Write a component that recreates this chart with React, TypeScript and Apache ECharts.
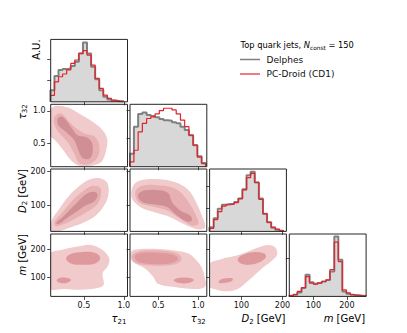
import React, { useEffect, useRef } from 'react';
import * as echarts from 'echarts';

// ---------- axis ranges & ticks (variables: tau21, tau32, D2, m) ----------
const xRanges = [[0.084, 1.046], [0.146, 1.108], [22.7, 209.5], [28, 257.5]];
const yRanges = [[0, 0], [0.144, 1.1], [24.4, 206], [30.7, 254.6]];
const tickValues = [[0.5, 1.0], [0.5, 1.0], [100, 200], [100, 200]];
const histMax = [2.94, 2.2, 2.74, 1.635];
const histTicks = [[1, 2], [1, 2], [1, 2], [1]];

// ---------- histograms ----------
const tau21Edges = [0.080, 0.131, 0.182, 0.233, 0.284, 0.335, 0.386, 0.437, 0.488, 0.539, 0.590, 0.641, 0.692, 0.743, 0.794, 0.845, 0.896, 0.947, 0.998];
const tau21Delphes = [0.55, 1.21, 1.50, 1.54, 1.57, 1.69, 1.89, 2.28, 2.79, 2.28, 1.65, 1.06, 0.55, 0.24, 0.11, 0.05, 0.03, 0.02];
const tau21PCDroid = [0.30, 0.94, 1.18, 1.31, 1.50, 1.81, 1.97, 2.28, 2.41, 2.20, 1.73, 1.10, 0.63, 0.31, 0.16, 0.08, 0.05, 0.03];

const tau32Edges = [0.142, 0.195, 0.248, 0.301, 0.354, 0.407, 0.460, 0.513, 0.566, 0.619, 0.672, 0.725, 0.778, 0.831, 0.884, 0.937, 0.990, 1.043, 1.096];
const tau32Delphes = [0.46, 1.41, 1.86, 1.91, 1.82, 1.79, 1.74, 1.68, 1.64, 1.62, 1.57, 1.53, 1.41, 1.29, 1.11, 0.76, 0.37, 0.13];
const tau32PCDroid = [0.17, 0.58, 1.23, 1.53, 1.70, 1.76, 1.86, 1.98, 2.06, 2.06, 2.00, 1.86, 1.64, 1.41, 1.11, 0.76, 0.34, 0.11];

const d2Edges = [22.5, 32.5, 42.5, 52.5, 62.5, 72.5, 82.5, 92.5, 102.5, 112.5, 122.5, 132.5, 142.5, 152.5, 162.5, 172.5, 182.5, 192.5, 202.5];
const d2Delphes = [0.18, 0.58, 0.99, 1.17, 1.20, 1.21, 1.29, 1.44, 1.85, 2.47, 2.62, 2.15, 1.44, 0.77, 0.40, 0.16, 0.07, 0.03];
const d2PCDroid = [0.13, 0.52, 0.87, 1.11, 1.17, 1.20, 1.26, 1.44, 1.82, 2.36, 2.55, 2.15, 1.41, 0.77, 0.40, 0.19, 0.10, 0.04];

const mEdges = [28, 40, 52, 64.5, 76.5, 88.5, 100.5, 112.5, 125, 137.5, 149.5, 162.5, 174.5, 186.5, 198.5, 210.5, 222.5, 234.5, 246.5, 258];
const mDelphes = [0.02, 0.04, 0.10, 0.22, 0.57, 0.37, 0.33, 0.35, 0.39, 0.43, 0.65, 1.57, 0.96, 0.13, 0.07, 0.04, 0.03, 0.02, 0.01];
const mPCDroid = [0.02, 0.05, 0.13, 0.23, 0.52, 0.35, 0.32, 0.35, 0.39, 0.43, 0.70, 1.42, 0.91, 0.17, 0.09, 0.05, 0.03, 0.02, 0.01];

// ---------- 2D density contours (level: 0 outer, 1 mid, 2 inner, 3 blob) ----------
const tau21Tau32Outer = [[0.07, 1.0], [0.15, 1.075], [0.30, 1.05], [0.45, 0.95], [0.60, 0.84], [0.72, 0.72], [0.79, 0.58], [0.78, 0.40], [0.72, 0.22], [0.60, 0.16], [0.45, 0.155], [0.34, 0.24], [0.24, 0.40], [0.13, 0.56], [0.07, 0.62]];
const tau21Tau32Mid = [[0.138, 0.919], [0.213, 0.96], [0.359, 0.78], [0.505, 0.651], [0.63, 0.609], [0.692, 0.47], [0.672, 0.289], [0.567, 0.186], [0.442, 0.197], [0.38, 0.341], [0.296, 0.522], [0.171, 0.692], [0.122, 0.831]];
const tau21Tau32Inner = [[0.171, 0.883], [0.234, 0.909], [0.338, 0.754], [0.422, 0.625], [0.526, 0.599], [0.597, 0.522], [0.609, 0.367], [0.567, 0.264], [0.484, 0.279], [0.43, 0.393], [0.38, 0.548], [0.276, 0.677], [0.18, 0.78]];

const tau21D2Outer = [[0.07, 20], [0.0965, 56.1], [0.192, 90.4], [0.338, 134.5], [0.484, 163.9], [0.588, 176.6], [0.713, 178.6], [0.797, 163.9], [0.805, 129.6], [0.755, 100.2], [0.651, 70.8], [0.505, 51.2], [0.338, 36.5], [0.213, 26.6], [0.10, 20]];
const tau21D2Mid = [[0.13, 51.2], [0.234, 80.6], [0.38, 119.8], [0.505, 144.3], [0.609, 157.0], [0.705, 151.1], [0.713, 129.6], [0.672, 105.0], [0.567, 85.5], [0.422, 65.9], [0.255, 46.3], [0.151, 39.4]];
const tau21D2Inner = [[0.151, 49.2], [0.234, 65.9], [0.359, 95.3], [0.484, 124.7], [0.567, 137.4], [0.642, 139.4], [0.672, 129.6], [0.63, 111.9], [0.526, 100.2], [0.401, 80.6], [0.276, 61.0], [0.192, 46.3]];

const tau32D2Outer = [[0.171, 149.2], [0.234, 168.8], [0.40, 176.6], [0.609, 173.7], [0.796, 159.0], [0.90, 139.4], [0.984, 105.0], [1.046, 70.8], [1.088, 36.5], [1.004, 29.6], [0.859, 41.4], [0.65, 65.9], [0.442, 80.6], [0.275, 95.3], [0.171, 119.8]];
const tau32D2Mid = [[0.213, 139.4], [0.296, 157.0], [0.484, 159.0], [0.65, 154.1], [0.775, 139.4], [0.879, 110.0], [0.963, 75.7], [1.004, 46.3], [0.921, 41.4], [0.775, 61.0], [0.609, 85.5], [0.40, 98.2], [0.254, 110.0]];
const tau32D2Inner = [[0.254, 134.5], [0.338, 144.3], [0.525, 144.3], [0.63, 134.5], [0.671, 110.0], [0.775, 85.5], [0.90, 70.8], [0.921, 56.1], [0.859, 53.1], [0.734, 70.8], [0.609, 95.3], [0.484, 102.1], [0.317, 108.0], [0.254, 119.8]];

const tau21MOuter = [[0.07, 182], [0.213, 197.5], [0.463, 211.8], [0.588, 215.3], [0.734, 197.5], [0.817, 167.7], [0.797, 138.0], [0.734, 114.2], [0.747, 72.5], [0.672, 60.7], [0.463, 54.7], [0.255, 57.1], [0.07, 60]];
const tau21MTop = [[0.276, 167.7], [0.338, 183.2], [0.484, 190.4], [0.651, 185.6], [0.705, 167.7], [0.651, 149.9], [0.484, 144.0], [0.33, 149.9]];
const tau21MW = [[0.159, 88.0], [0.192, 96.4], [0.276, 97.5], [0.338, 90.4], [0.30, 80.9], [0.205, 78.5]];

const tau32MOuter = [[0.163, 191.5], [0.246, 199.9], [0.496, 201.1], [0.704, 195.1], [0.871, 185.6], [0.954, 167.7], [1.038, 138.0], [1.079, 102.3], [1.088, 66.6], [0.954, 57.1], [0.704, 64.2], [0.496, 76.1], [0.434, 102.3], [0.329, 132.0], [0.204, 149.9], [0.163, 161.8]];
const tau32MMid = [[0.184, 183.2], [0.329, 195.1], [0.621, 192.7], [0.767, 179.7], [0.788, 159.4], [0.683, 144.0], [0.454, 140.4], [0.246, 147.5], [0.171, 164.2]];
const tau32MTop = [[0.213, 179.7], [0.329, 188.0], [0.579, 185.6], [0.725, 176.1], [0.746, 161.8], [0.663, 149.9], [0.454, 146.3], [0.267, 152.3], [0.213, 164.2]];
const tau32MW = [[0.696, 88.0], [0.746, 96.4], [0.871, 97.5], [0.946, 90.4], [0.892, 79.7], [0.767, 78.5]];

const d2MOuter = [[20, 144], [50.3, 164.2], [95.0, 179.7], [135.7, 203.5], [164.1, 215.3], [182.0, 207.0], [186.9, 179.7], [172.2, 155.9], [147.8, 128.5], [119.4, 90.4], [91.0, 57.1], [58.4, 48.8], [34.0, 57.1], [20, 69]];
const d2MTop = [[91.0, 164.2], [103.2, 179.7], [127.6, 189.2], [154.4, 185.6], [160.0, 173.7], [147.8, 155.9], [119.4, 144.0], [97.5, 149.9]];
const d2MW = [[44.6, 84.5], [54.3, 94.0], [77.1, 96.4], [78.7, 88.0], [62.4, 79.7], [46.2, 78.5]];

// ---------- layout / style ----------
const FONT = 'DejaVu Sans';
const TXT = '#111';
const FRAME = '#262626';
const colLeft = [50.7, 130.0, 209.6, 289.3];
const rowTop = [39.4, 104.3, 169.0, 234.0];
const PW = 76.8;
const PH = 62.4;
const GRAY_LINE = '#808080';
const GRAY_FILL = '#d8d8d8';
const RED = '#e3242b';
const levelColors = ['#f1cacb', '#e7b0b2', '#d08f94', '#de999d'];

const histData = [
  [tau21Edges, tau21Delphes, tau21PCDroid],
  [tau32Edges, tau32Delphes, tau32PCDroid],
  [d2Edges, d2Delphes, d2PCDroid],
  [mEdges, mDelphes, mPCDroid],
];

const contours: Record<string, { level: number; pts: number[][] }[]> = {
  '1-0': [
    { level: 0, pts: tau21Tau32Outer },
    { level: 1, pts: tau21Tau32Mid },
    { level: 2, pts: tau21Tau32Inner },
  ],
  '2-0': [
    { level: 0, pts: tau21D2Outer },
    { level: 1, pts: tau21D2Mid },
    { level: 2, pts: tau21D2Inner },
  ],
  '2-1': [
    { level: 0, pts: tau32D2Outer },
    { level: 1, pts: tau32D2Mid },
    { level: 2, pts: tau32D2Inner },
  ],
  '3-0': [
    { level: 0, pts: tau21MOuter },
    { level: 3, pts: tau21MTop },
    { level: 3, pts: tau21MW },
  ],
  '3-1': [
    { level: 0, pts: tau32MOuter },
    { level: 1, pts: tau32MMid },
    { level: 3, pts: tau32MTop },
    { level: 3, pts: tau32MW },
  ],
  '3-2': [
    { level: 0, pts: d2MOuter },
    { level: 3, pts: d2MTop },
    { level: 3, pts: d2MW },
  ],
};

function stepData(edges: number[], counts: number[]) {
  const d: number[][] = [[edges[0], 0]];
  counts.forEach((c, i) => d.push([edges[i], c]));
  d.push([edges[edges.length - 1], counts[counts.length - 1]]);
  d.push([edges[edges.length - 1], 0]);
  return d;
}

function fmt(v: number) {
  return v < 10 ? v.toFixed(1) : String(v);
}

function buildOption() {
  const grids: any[] = [];
  const xAxes: any[] = [];
  const yAxes: any[] = [];
  const series: any[] = [];
  const graphics: any[] = [];
  const tickStyle = { color: FRAME, width: 0.8 };

  let g = 0;
  for (let i = 0; i < 4; i++) {
    for (let j = 0; j <= i; j++) {
      const left = colLeft[j];
      const top = rowTop[i];
      grids.push({ left, top, width: PW, height: PH, containLabel: false });
      xAxes.push({
        type: 'value', gridIndex: g, min: xRanges[j][0], max: xRanges[j][1],
        axisLine: { show: false }, splitLine: { show: false },
        axisTick: { show: true, customValues: tickValues[j], length: 3.5, lineStyle: tickStyle },
        axisLabel: {
          show: i === 3, customValues: tickValues[j], formatter: fmt,
          fontSize: 8, fontFamily: FONT, color: TXT, margin: 5,
        },
      });
      const diag = i === j;
      yAxes.push({
        type: 'value', gridIndex: g,
        min: diag ? 0 : yRanges[i][0], max: diag ? histMax[i] : yRanges[i][1],
        axisLine: { show: false }, splitLine: { show: false },
        axisTick: { show: true, customValues: diag ? histTicks[i] : tickValues[i], length: 3.5, lineStyle: tickStyle },
        axisLabel: {
          show: !diag && j === 0, customValues: tickValues[i], formatter: fmt,
          fontSize: 8, fontFamily: FONT, color: TXT, margin: 5,
        },
      });
      if (diag) {
        const [edges, del, pcd] = histData[i];
        series.push({
          type: 'line', xAxisIndex: g, yAxisIndex: g, step: 'end', symbol: 'none',
          data: stepData(edges as number[], del as number[]),
          lineStyle: { color: GRAY_LINE, width: 2 },
          areaStyle: { color: GRAY_FILL, opacity: 1 },
          silent: true, z: 2,
        });
        series.push({
          type: 'line', xAxisIndex: g, yAxisIndex: g, step: 'end', symbol: 'none',
          data: stepData(edges as number[], pcd as number[]),
          lineStyle: { color: RED, width: 1.2 },
          silent: true, z: 3,
        });
      } else {
        const polys = contours[`${i}-${j}`];
        series.push({
          type: 'custom', xAxisIndex: g, yAxisIndex: g, clip: true, silent: true,
          data: polys.map((p) => p.pts[0]),
          renderItem: (params: any, api: any) => {
            const poly = polys[params.dataIndex];
            const pts = poly.pts.map((p) => api.coord(p));
            return {
              type: 'polygon',
              shape: { points: pts, smooth: 0.35 },
              style: { fill: levelColors[poly.level], stroke: null },
            };
          },
        });
      }
      graphics.push({
        type: 'rect', z: 100, silent: true,
        shape: { x: left, y: top, width: PW, height: PH },
        style: { fill: null, stroke: FRAME, lineWidth: 1 },
      });
      g++;
    }
  }

  const rich = {
    t: { fontSize: 10, fontFamily: FONT, color: TXT, lineHeight: 13 },
    i: { fontSize: 10, fontFamily: FONT, color: TXT, fontStyle: 'italic', lineHeight: 13 },
    s: { fontSize: 7, fontFamily: FONT, color: TXT, lineHeight: 7, verticalAlign: 'bottom' },
  };
  const xLabels = ['{i|τ}{s|21}', '{i|τ}{s|32}', '{i|D}{s|2}{t| [GeV]}', '{i|m}{t| [GeV]}'];
  xLabels.forEach((text, j) => {
    graphics.push({
      type: 'text', z: 100, x: colLeft[j] + PW - 1, y: 318.5,
      style: { text, rich, align: 'right', verticalAlign: 'middle' },
    });
  });
  const yLabels = ['{t|A.U.}', '{i|τ}{s|32}', '{i|D}{s|2}{t| [GeV]}', '{i|m}{t| [GeV]}'];
  const yLabelX = [36, 22, 22, 22];
  yLabels.forEach((text, i) => {
    graphics.push({
      type: 'text', z: 100, x: yLabelX[i], y: rowTop[i], rotation: Math.PI / 2,
      style: { text, rich, align: 'right', verticalAlign: 'middle' },
    });
  });

  // legend
  graphics.push({
    type: 'text', z: 100, x: 240.5, y: 45,
    style: {
      text: '{a|Top quark jets, }{i|N}{s|const}{a| = 150}',
      rich: {
        a: { fontSize: 8.3, fontFamily: FONT, color: TXT, lineHeight: 11 },
        i: { fontSize: 8.3, fontFamily: FONT, color: TXT, fontStyle: 'italic', lineHeight: 11 },
        s: { fontSize: 5.8, fontFamily: FONT, color: TXT, lineHeight: 6, verticalAlign: 'bottom' },
      },
      verticalAlign: 'middle', align: 'left',
    },
  });
  graphics.push({ type: 'line', z: 100, shape: { x1: 240, y1: 59.5, x2: 260, y2: 59.5 }, style: { stroke: GRAY_LINE, lineWidth: 1.5 } });
  graphics.push({ type: 'line', z: 100, shape: { x1: 240, y1: 74, x2: 260, y2: 74 }, style: { stroke: RED, lineWidth: 1.2 } });
  graphics.push({ type: 'text', z: 100, x: 266.5, y: 59.5, style: { text: 'Delphes', fontSize: 9, fontFamily: FONT, fill: TXT, verticalAlign: 'middle' } });
  graphics.push({ type: 'text', z: 100, x: 266.5, y: 74, style: { text: 'PC-Droid (CD1)', fontSize: 9, fontFamily: FONT, fill: TXT, verticalAlign: 'middle' } });

  return {
    animation: false,
    backgroundColor: '#ffffff',
    textStyle: { fontFamily: FONT },
    grid: grids,
    xAxis: xAxes,
    yAxis: yAxes,
    series,
    graphic: graphics,
  };
}

export default function App() {
  const ref = useRef<HTMLDivElement>(null);
  useEffect(() => {
    const chart = echarts.init(ref.current!, null, { renderer: 'svg' });
    chart.setOption(buildOption() as any);
    return () => chart.dispose();
  }, []);
  return (
    <div
      ref={ref}
      style={{ position: 'fixed', left: 0, top: 0, width: 407, height: 333, background: '#fff' }}
    />
  );
}
